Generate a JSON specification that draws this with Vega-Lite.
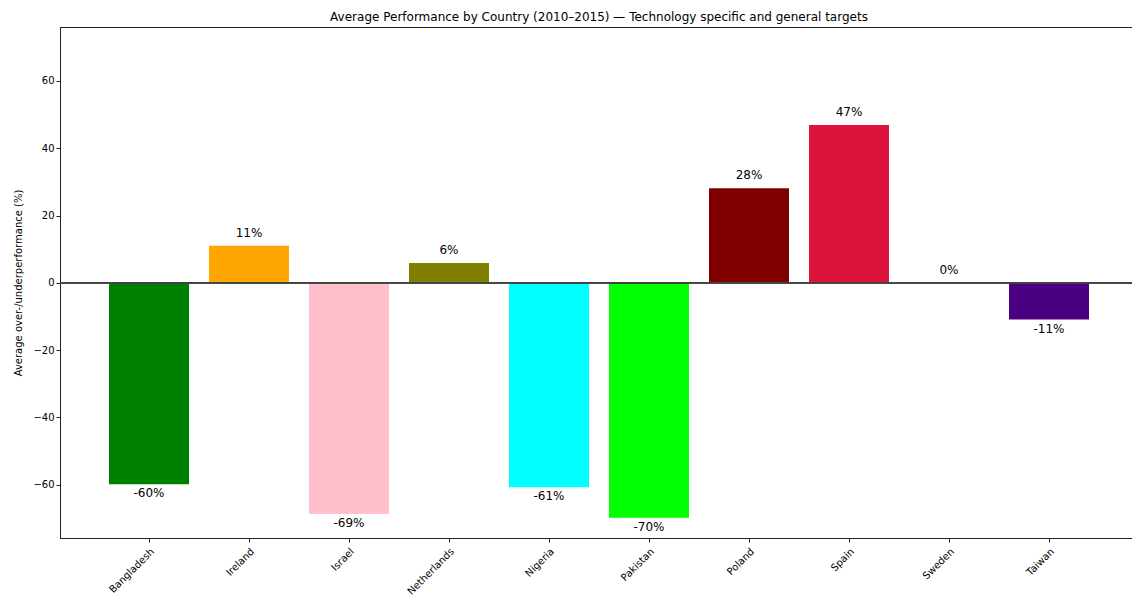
{
  "$schema": "https://vega.github.io/schema/vega-lite/v6.json",
  "autosize": "none",
  "width": 1078,
  "height": 511,
  "padding": {"left": 60, "top": 27, "right": 0, "bottom": 63},
  "background": "white",
  "config": {
    "font": "DejaVu Sans",
    "view": {"stroke": "#222222", "strokeWidth": 1},
    "axis": {
      "labelFont": "DejaVu Sans",
      "titleFont": "DejaVu Sans",
      "labelFontSize": 10,
      "labelColor": "#000000",
      "titleFontSize": 10,
      "titleFontWeight": "normal",
      "titleColor": "#000000",
      "domainColor": "#222222",
      "tickColor": "#222222",
      "tickSize": 4,
      "grid": false
    }
  },
  "title": {
    "text": "Average Performance by Country (2010–2015) — Technology specific and general targets",
    "font": "DejaVu Sans",
    "fontSize": 12,
    "fontWeight": "normal",
    "color": "#000000",
    "offset": 3,
    "anchor": "middle",
    "frame": "group"
  },
  "data": {
    "values": [
      {"country": "Bangladesh", "value": -59.8, "label": "-60%", "color": "green"},
      {"country": "Ireland", "value": 11.0, "label": "11%", "color": "orange"},
      {"country": "Israel", "value": -68.7, "label": "-69%", "color": "pink"},
      {"country": "Netherlands", "value": 5.9, "label": "6%", "color": "olive"},
      {"country": "Nigeria", "value": -60.7, "label": "-61%", "color": "cyan"},
      {"country": "Pakistan", "value": -69.8, "label": "-70%", "color": "lime"},
      {"country": "Poland", "value": 28.1, "label": "28%", "color": "maroon"},
      {"country": "Spain", "value": 46.9, "label": "47%", "color": "crimson"},
      {"country": "Sweden", "value": 0, "label": "0%", "color": "gold"},
      {"country": "Taiwan", "value": -10.9, "label": "-11%", "color": "indigo"}
    ]
  },
  "encoding": {
    "x": {
      "field": "country",
      "type": "nominal",
      "sort": null,
      "scale": {"paddingInner": 0.2, "paddingOuter": 0.49},
      "axis": {"title": null, "labelAngle": -45, "labelAlign": "right", "labelBaseline": "top", "labelPadding": 4, "labelFontSize": 10}
    },
    "y": {
      "field": "value",
      "type": "quantitative",
      "scale": {"domain": [-75.8, 76], "nice": false, "zero": false},
      "axis": {"title": "Average over-/underperformance (%)", "values": [-60, -40, -20, 0, 20, 40, 60], "titlePadding": 9}
    }
  },
  "layer": [
    {
      "mark": {"type": "bar"},
      "encoding": {
        "color": {"field": "color", "type": "nominal", "scale": null, "legend": null}
      }
    },
    {
      "mark": {"type": "rule", "color": "#444444", "strokeWidth": 0.8},
      "encoding": {"y": {"datum": 0}, "x": null}
    },
    {
      "transform": [{"filter": "datum.value >= 0"}],
      "mark": {"type": "text", "baseline": "bottom", "dy": -6, "fontSize": 12, "color": "#000000", "font": "DejaVu Sans"},
      "encoding": {"text": {"field": "label"}}
    },
    {
      "transform": [{"filter": "datum.value < 0"}],
      "mark": {"type": "text", "baseline": "top", "dy": 4, "fontSize": 12, "color": "#000000", "font": "DejaVu Sans"},
      "encoding": {"text": {"field": "label"}}
    }
  ]
}
